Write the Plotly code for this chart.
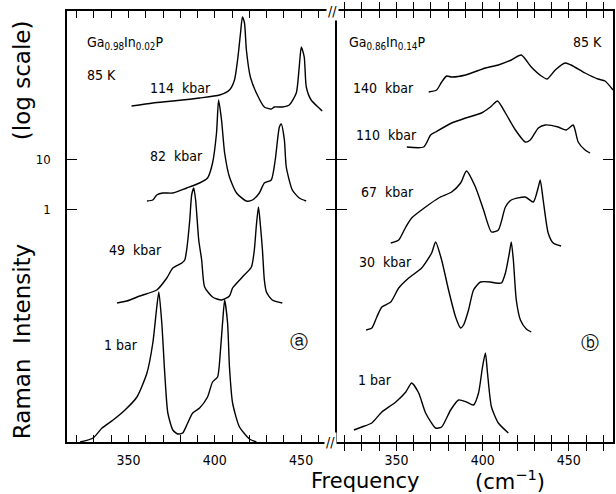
import plotly.graph_objects as go

# ---------------- data (frequency in cm^-1, log10 intensity with offsets) ----------------
# Panel (a): Ga0.98In0.02P
freq_a_114 = [351.8, 364.1, 375.7, 391.2, 402.8, 408.5, 411.4, 413.2, 414.9, 416.0, 417.2, 418.3, 420.6,
              424.1, 428.7, 432.7, 434.5, 439.1, 443.1, 447.2, 448.9, 450.1, 451.8, 453.0, 455.8, 460.4, 462.2]
int_a_114 = [2.06, 2.12, 2.16, 2.22, 2.28, 2.38, 2.58, 2.98, 3.52, 3.84, 3.72, 3.18, 2.64,
             2.32, 2.04, 2.00, 2.04, 2.04, 2.08, 2.32, 2.84, 3.24, 3.04, 2.44, 2.18, 2.02, 1.96]

freq_a_82 = [360.7, 364.1, 366.4, 369.9, 375.7, 383.7, 391.2, 395.8, 398.7, 401.0, 402.2, 403.9, 405.7,
             408.5, 412.6, 418.3, 421.8, 425.8, 428.7, 432.7, 435.0, 437.4, 438.5, 440.3, 441.4, 444.9,
             448.9, 452.9]
int_a_82 = [0.16, 0.18, 0.28, 0.32, 0.32, 0.42, 0.52, 0.62, 0.92, 1.52, 2.18, 1.78, 1.12,
            0.64, 0.32, 0.16, 0.18, 0.32, 0.52, 0.58, 0.98, 1.64, 1.70, 1.38, 0.84, 0.38,
            0.22, 0.16]

freq_a_49 = [343.4, 349.1, 356.6, 366.4, 372.2, 375.7, 380.9, 382.6, 383.7, 385.5, 386.6, 387.8, 388.9,
             390.7, 392.4, 394.1, 398.7, 403.9, 408.5, 410.3, 416.0, 421.2, 422.9, 424.1, 425.3, 426.4,
             427.6, 428.7, 429.9, 433.3, 439.1]
int_a_49 = [-1.88, -1.84, -1.74, -1.62, -1.38, -1.18, -1.08, -1.02, -0.82, -0.22, 0.28, 0.42, 0.18,
            -0.62, -1.02, -1.56, -1.76, -1.82, -1.74, -1.58, -1.36, -1.16, -0.82, -0.32, 0.04, -0.32,
            -0.82, -1.42, -1.66, -1.82, -1.88]

freq_a_1 = [322.0, 329.5, 334.7, 341.1, 348.0, 354.9, 360.7, 364.1, 366.4, 367.6, 369.3, 371.0, 372.8,
            375.7, 378.5, 381.4, 384.3, 387.2, 391.2, 395.8, 398.7, 401.6, 403.3, 404.5, 405.7, 407.4,
            408.5, 410.3, 414.3, 420.1, 424.1]
int_a_1 = [-4.66, -4.58, -4.38, -4.22, -4.02, -3.76, -3.28, -2.68, -1.96, -1.66, -2.28, -3.28, -4.08,
           -4.42, -4.50, -4.48, -4.28, -4.08, -3.98, -3.76, -3.46, -3.36, -2.82, -2.28, -1.82, -2.28,
           -3.16, -3.88, -4.36, -4.60, -4.66]

# Panel (b): Ga0.86In0.14P
freq_b_140 = [368.7, 373.3, 376.2, 379.1, 382.0, 390.1, 401.6, 409.1, 416.6, 422.4, 428.2, 434.0, 437.4,
              442.1, 447.9, 451.3, 459.4, 466.9, 471.0, 475.6]
int_b_140 = [2.34, 2.38, 2.54, 2.66, 2.64, 2.68, 2.82, 2.88, 2.98, 3.08, 2.84, 2.66, 2.60,
             2.78, 2.92, 2.88, 2.72, 2.60, 2.56, 2.38]

freq_b_110 = [356.0, 365.8, 369.8, 372.7, 382.0, 390.1, 399.3, 404.5, 408.6, 413.2, 419.0, 424.7, 427.6,
              432.3, 436.3, 443.8, 448.4, 452.5, 453.6, 455.4, 459.4, 462.3]
int_b_110 = [1.24, 1.24, 1.48, 1.54, 1.72, 1.82, 1.92, 2.04, 2.16, 1.92, 1.58, 1.34, 1.38,
             1.62, 1.68, 1.64, 1.58, 1.68, 1.58, 1.34, 1.18, 1.12]

freq_b_67 = [346.7, 351.3, 355.4, 358.8, 366.9, 374.5, 382.0, 387.2, 390.6, 395.8, 400.5, 405.1, 409.1,
             413.2, 416.6, 424.7, 429.4, 432.3, 433.4, 435.1, 438.0, 440.9, 445.5]
int_b_67 = [-0.68, -0.62, -0.36, -0.18, 0.04, 0.22, 0.34, 0.52, 0.76, 0.44, -0.02, -0.46, -0.42,
            0.04, 0.18, 0.24, 0.14, 0.44, 0.58, 0.18, -0.48, -0.68, -0.74]

freq_b_30 = [332.4, 335.7, 338.6, 341.5, 346.7, 351.3, 357.1, 364.6, 370.4, 372.7, 376.2, 380.2, 384.3,
             387.2, 388.9, 391.8, 394.7, 398.7, 404.5, 407.4, 410.9, 413.2, 415.5, 416.6, 417.8, 419.5,
             421.9, 425.3, 428.2]
int_b_30 = [-2.42, -2.38, -2.16, -1.96, -1.86, -1.58, -1.38, -1.18, -0.88, -0.66, -1.02, -1.62, -2.16,
            -2.38, -2.32, -2.02, -1.62, -1.46, -1.46, -1.48, -1.48, -1.28, -0.88, -0.66, -1.02, -1.82,
            -2.22, -2.40, -2.46]

freq_b_1 = [325.3, 329.9, 335.7, 341.5, 349.6, 355.4, 358.8, 362.9, 366.9, 372.7, 376.2, 381.4, 386.0,
            390.6, 394.7, 397.6, 399.9, 401.6, 402.8, 405.1, 409.1, 414.9]
int_b_1 = [-4.42, -4.36, -4.28, -4.06, -3.86, -3.66, -3.48, -3.68, -4.08, -4.38, -4.36, -4.02, -3.82,
           -3.86, -3.92, -3.68, -3.16, -2.88, -3.28, -3.96, -4.28, -4.48]

x_tick_vals = [320, 330, 340, 350, 360, 370, 380, 390, 400, 410, 420, 430, 440, 450, 460, 470]
x_tick_text = ["", "", "", "350", "", "", "", "", "400", "", "", "", "", "450", "", ""]
y_tick_vals = [0, 1]
y_tick_text = ["1", "10"]

# ---------------- figure ----------------
FONT = "DejaVu Sans Condensed, DejaVu Sans, sans-serif"
TFONT = "DejaVu Sans, sans-serif"
LINE = dict(color="black", width=1.4, shape="spline", smoothing=0.6)

fig = go.Figure()
for fx, iy in [(freq_a_114, int_a_114), (freq_a_82, int_a_82), (freq_a_49, int_a_49), (freq_a_1, int_a_1)]:
    fig.add_trace(go.Scatter(x=fx, y=iy, mode="lines", line=LINE, xaxis="x", yaxis="y",
                             showlegend=False, hoverinfo="skip"))
for fx, iy in [(freq_b_140, int_b_140), (freq_b_110, int_b_110), (freq_b_67, int_b_67),
               (freq_b_30, int_b_30), (freq_b_1, int_b_1)]:
    fig.add_trace(go.Scatter(x=fx, y=iy, mode="lines", line=LINE, xaxis="x2", yaxis="y2",
                             showlegend=False, hoverinfo="skip"))
# empty trace so the outward tick axis on the divider is rendered
fig.add_trace(go.Scatter(x=[], y=[], xaxis="x2", yaxis="y3", showlegend=False, hoverinfo="skip"))

xcommon = dict(showline=True, linewidth=1.6, linecolor="black", mirror="allticks",
               ticks="inside", ticklen=7, tickwidth=1.3, tickcolor="black",
               tickvals=x_tick_vals, ticktext=x_tick_text, ticklabelstandoff=4,
               showgrid=False, zeroline=False,
               tickfont=dict(family=FONT, size=14, color="black"))
Y_RANGE = [-4.66, 3.96]
fig.update_layout(
    width=616, height=494,
    margin=dict(l=67, r=1, t=11, b=52),
    paper_bgcolor="white", plot_bgcolor="white",
    xaxis=dict(domain=[0, 0.4854], range=[314.4, 467.9], anchor="y", **xcommon),
    xaxis2=dict(domain=[0.4945, 1], range=[315.5, 475.6], anchor="y2", **xcommon),
    yaxis=dict(domain=[0, 1], range=Y_RANGE, anchor="x", showline=True, linewidth=1.6, linecolor="black",
               ticks="inside", ticklen=10, tickwidth=1.3, tickcolor="black",
               tickvals=y_tick_vals, ticktext=y_tick_text, ticklabelstandoff=12,
               tickfont=dict(family=FONT, size=13, color="black"),
               showgrid=False, zeroline=False),
    yaxis2=dict(domain=[0, 1], range=Y_RANGE, anchor="x2", showline=True, linewidth=1.6, linecolor="black",
                mirror="allticks", ticks="inside", ticklen=10, tickwidth=1.3, tickcolor="black",
                tickvals=y_tick_vals, showticklabels=False, showgrid=False, zeroline=False),
    yaxis3=dict(range=Y_RANGE, anchor="x2", overlaying="y2", side="left", showline=False,
                ticks="outside", ticklen=10, tickwidth=1.3, tickcolor="black",
                tickvals=y_tick_vals, showticklabels=False, showgrid=False, zeroline=False),
)

def lab(text, x, y, xref, yref, size=14, xanchor="left"):
    fig.add_annotation(text=text, x=x, y=y, xref=xref, yref=yref, showarrow=False,
                       xanchor=xanchor, yanchor="middle",
                       font=dict(family=FONT, size=size, color="black"))

# panel (a) labels
lab("Ga<sub>0.98</sub>In<sub>0.02</sub>P", 324.9, 3.32, "x", "y")
lab("85 K", 324.9, 2.68, "x", "y")
lab("114  kbar", 361.2, 2.42, "x", "y")
lab("82  kbar", 361.2, 1.06, "x", "y")
lab("49  kbar", 337.6, -0.82, "x", "y")
lab("1 bar", 334.7, -2.72, "x", "y")
lab("ⓐ", 448.9, -2.64, "x", "y", size=18, xanchor="center")
# panel (b) labels
lab("Ga<sub>0.86</sub>In<sub>0.14</sub>P", 321.3, 3.32, "x2", "y2")
lab("85 K", 451.3, 3.34, "x2", "y2")
lab("140  kbar", 323.6, 2.42, "x2", "y2")
lab("110  kbar", 325.3, 1.48, "x2", "y2")
lab("67  kbar", 328.2, 0.34, "x2", "y2")
lab("30  kbar", 327.1, -1.06, "x2", "y2")
lab("1 bar", 326.5, -3.42, "x2", "y2")
lab("ⓑ", 462.3, -2.66, "x2", "y2", size=18, xanchor="center")

# axis titles (placed as annotations in paper coordinates)
W, H = 548.0, 431.0
def px2paper(px, py):
    return (px - 67) / W, (442 - py) / H

for txt, (px, py) in [("Raman  Intensity", (22, 342)), ("(log scale)", (22, 80))]:
    xp, yp = px2paper(px, py)
    fig.add_annotation(text=txt, x=xp, y=yp, xref="paper", yref="paper", showarrow=False,
                       textangle=-90, xanchor="center", yanchor="middle",
                       font=dict(family=TFONT, size=23, color="black"))
for txt, (px, py) in [("Frequency", (367, 481)), ("(cm<sup>−1</sup>)", (512, 480))]:
    xp, yp = px2paper(px, py)
    fig.add_annotation(text=txt, x=xp, y=yp, xref="paper", yref="paper", showarrow=False,
                       xanchor="center", yanchor="middle",
                       font=dict(family=TFONT, size=21, color="black"))
# axis break marks
for px, py in [(331, 442), (333, 11)]:
    xp, yp = px2paper(px, py)
    fig.add_annotation(text="//", x=xp, y=yp, xref="paper", yref="paper", showarrow=False,
                       xanchor="center", yanchor="middle", bgcolor="white",
                       font=dict(family=FONT, size=14, color="black"))

fig.write_html("out.html")
